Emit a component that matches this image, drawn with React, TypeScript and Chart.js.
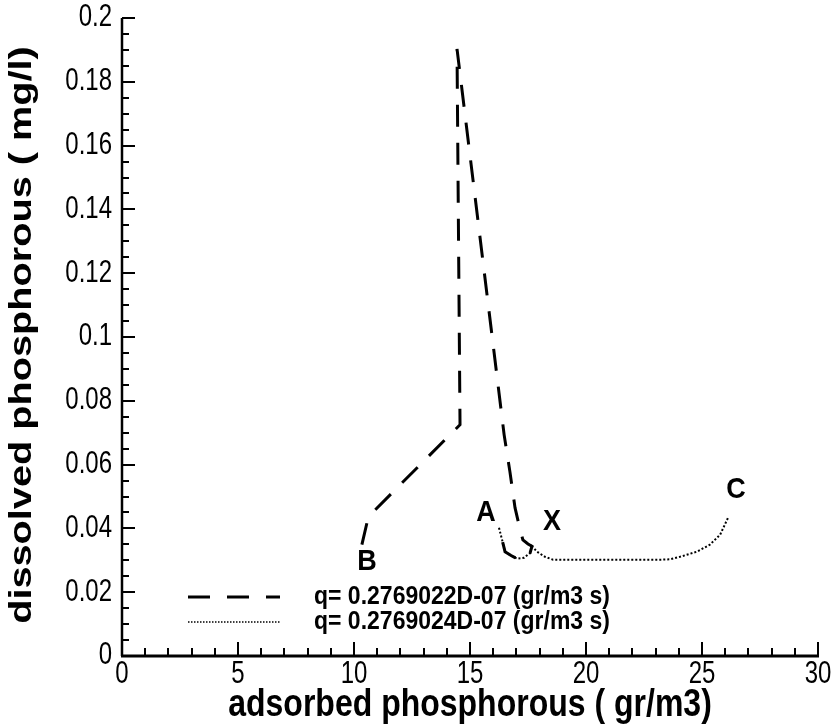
import React, { useEffect, useRef } from 'react';
import { Chart, registerables } from 'chart.js';

Chart.register(...registerables);

// ---- data ----
const dashedX = [10.34, 10.56, 10.91, 14.57, 14.44, 16.47, 16.72, 16.94, 17.16, 17.28, 17.5, 17.67, 17.59, 17.33, 17.03, 16.77, 16.51, 16.38, 16.25];
const dashedY = [0.0349, 0.0418, 0.0458, 0.0725, 0.1903, 0.0694, 0.0578, 0.0465, 0.0396, 0.0364, 0.0351, 0.0344, 0.0323, 0.0308, 0.0305, 0.0315, 0.0327, 0.0365, 0.0402];

const dottedX = [16.25, 16.38, 16.51, 16.77, 17.03, 17.33, 17.59, 17.67, 17.89, 18.23, 18.58, 19.5, 20.5, 21.5, 22.5, 23.2, 23.62, 24.05, 24.78, 25.34, 25.78, 26.12];
const dottedY = [0.0402, 0.0365, 0.0327, 0.0315, 0.0305, 0.0308, 0.0323, 0.0344, 0.0327, 0.0311, 0.0302, 0.0302, 0.0302, 0.0302, 0.0302, 0.0302, 0.0303, 0.0311, 0.0327, 0.0349, 0.038, 0.0433];

const seriesNames = ['q= 0.2769022D-07 (gr/m3 s)', 'q= 0.2769024D-07 (gr/m3 s)'];

const xMajorTicks = [0, 5, 10, 15, 20, 25, 30];
const xTickLabels = ['0', '5', '10', '15', '20', '25', '30'];
const yMajorTicks = [0, 0.02, 0.04, 0.06, 0.08, 0.1, 0.12, 0.14, 0.16, 0.18, 0.2];
const yTickLabels = ['0', '0.02', '0.04', '0.06', '0.08', '0.1', '0.12', '0.14', '0.16', '0.18', '0.2'];
const xMinorStep = 1;
const yMinorStep = 0.005;

const pointLabelText = ['A', 'X', 'B', 'C'];
const pointLabelX = [15.69, 18.53, 10.56, 26.47];
const pointLabelY = [0.0448, 0.042, 0.0295, 0.052];

const xTitle = 'adsorbed phosphorous ( gr/m3)';
const yTitle = 'dissolved phosphorous ( mg/l)';

const FONT = '"Liberation Sans", Arial, Helvetica, sans-serif';

function drawText(
  ctx: CanvasRenderingContext2D,
  text: string,
  x: number,
  y: number,
  font: string,
  sx: number,
  sy: number,
  align: CanvasTextAlign,
  baseline: CanvasTextBaseline,
  rot = 0
) {
  ctx.save();
  ctx.translate(x, y);
  if (rot) ctx.rotate(rot);
  ctx.scale(sx, sy);
  ctx.font = font;
  ctx.textAlign = align;
  ctx.textBaseline = baseline;
  ctx.fillStyle = '#000';
  ctx.fillText(text, 0, 0);
  ctx.restore();
}

const decorPlugin = {
  id: 'decor',
  beforeDatasetsDraw(chart: any) {
    const ctx: CanvasRenderingContext2D = chart.ctx;
    const xs = chart.scales.x;
    const ys = chart.scales.y;
    const { left, right, top, bottom } = chart.chartArea;
    ctx.save();
    ctx.strokeStyle = '#000';
    ctx.lineCap = 'butt';
    // axis lines
    ctx.lineWidth = 2.5;
    ctx.beginPath();
    ctx.moveTo(left, top);
    ctx.lineTo(left, bottom);
    ctx.stroke();
    ctx.lineWidth = 3;
    ctx.beginPath();
    ctx.moveTo(left - 1, bottom);
    ctx.lineTo(right + 1, bottom);
    ctx.stroke();
    // ticks (inward)
    ctx.lineWidth = 2;
    const xMin = xs.min, xMax = xs.max;
    for (let v = xMin; v <= xMax + 1e-9; v += xMinorStep) {
      const px = Math.round(xs.getPixelForValue(v));
      const major = xMajorTicks.some((t) => Math.abs(t - v) < 1e-6);
      const len = major ? 14 : 8;
      ctx.beginPath();
      ctx.moveTo(px, bottom);
      ctx.lineTo(px, bottom - len);
      ctx.stroke();
    }
    const yMin = ys.min, yMax = ys.max;
    const nY = Math.round((yMax - yMin) / yMinorStep);
    for (let i = 0; i <= nY; i++) {
      const v = yMin + i * yMinorStep;
      const py = Math.round(ys.getPixelForValue(v));
      const major = yMajorTicks.some((t) => Math.abs(t - v) < 1e-7);
      const len = major ? 13 : 7;
      ctx.beginPath();
      ctx.moveTo(left, py);
      ctx.lineTo(left + len, py);
      ctx.stroke();
    }
    ctx.restore();
  },
  afterDraw(chart: any) {
    const ctx: CanvasRenderingContext2D = chart.ctx;
    const xs = chart.scales.x;
    const ys = chart.scales.y;
    const { left, right, top, bottom } = chart.chartArea;
    // tick labels
    xMajorTicks.forEach((v, i) => {
      drawText(ctx, xTickLabels[i], xs.getPixelForValue(v), bottom + 3, `24px ${FONT}`, 1, 1.27, 'center', 'top');
    });
    yMajorTicks.forEach((v, i) => {
      drawText(ctx, yTickLabels[i], left - 10, ys.getPixelForValue(v), `24px ${FONT}`, 1, 1.27, 'right', 'middle');
    });
    // axis titles
    drawText(ctx, xTitle, (left + right) / 2, 705, `bold 32px ${FONT}`, 1, 1.2, 'center', 'middle');
    drawText(ctx, yTitle, 22, (top + bottom) / 2 - 2, `bold 32px ${FONT}`, 1.24, 1, 'center', 'middle', -Math.PI / 2);
    // point labels
    pointLabelText.forEach((t, i) => {
      drawText(ctx, t, xs.getPixelForValue(pointLabelX[i]), ys.getPixelForValue(pointLabelY[i]), `bold 27px ${FONT}`, 1, 1.12, 'center', 'middle');
    });
    // legend
    const lx0 = 188, lx1 = 280, tx = 314;
    const rows = [597, 622];
    ctx.save();
    ctx.strokeStyle = '#000';
    ctx.lineWidth = 3;
    ctx.setLineDash([22, 17]);
    ctx.beginPath();
    ctx.moveTo(lx0, rows[0]);
    ctx.lineTo(lx1, rows[0]);
    ctx.stroke();
    ctx.lineWidth = 1.5;
    ctx.setLineDash([1.5, 1.5]);
    ctx.beginPath();
    ctx.moveTo(lx0, rows[1]);
    ctx.lineTo(lx1, rows[1]);
    ctx.stroke();
    ctx.restore();
    seriesNames.forEach((n, i) => {
      drawText(ctx, n, tx, rows[i], `bold 23px ${FONT}`, 1, 1.1, 'left', 'middle');
    });
  },
};

export default function App() {
  const ref = useRef<HTMLCanvasElement | null>(null);
  useEffect(() => {
    if (!ref.current) return;
    const chart = new Chart(ref.current, {
      type: 'scatter',
      data: {
        datasets: [
          {
            label: seriesNames[0],
            data: dashedX.map((x, i) => ({ x, y: dashedY[i] })),
            showLine: true,
            borderColor: '#000',
            backgroundColor: '#000',
            borderWidth: 3,
            borderDash: [22, 16],
            pointRadius: 0,
            tension: 0,
          },
          {
            label: seriesNames[1],
            data: dottedX.map((x, i) => ({ x, y: dottedY[i] })),
            showLine: true,
            borderColor: '#000',
            backgroundColor: '#000',
            borderWidth: 2,
            borderDash: [2, 2],
            pointRadius: 0,
            tension: 0,
          },
        ],
      },
      options: {
        animation: false,
        responsive: false,
        devicePixelRatio: 1,
        layout: { padding: { left: 122, right: 16, top: 18, bottom: 69 } },
        plugins: { legend: { display: false }, tooltip: { enabled: false } },
        scales: {
          x: { type: 'linear', min: 0, max: 30, display: false },
          y: { type: 'linear', min: 0, max: 0.2, display: false },
        },
      },
      plugins: [decorPlugin],
    });
    return () => chart.destroy();
  }, []);
  return (
    <div style={{ position: 'absolute', left: 0, top: 0, width: 834, height: 725, background: '#fff' }}>
      <canvas ref={ref} width={834} height={725} style={{ width: 834, height: 725, display: 'block' }} />
    </div>
  );
}
